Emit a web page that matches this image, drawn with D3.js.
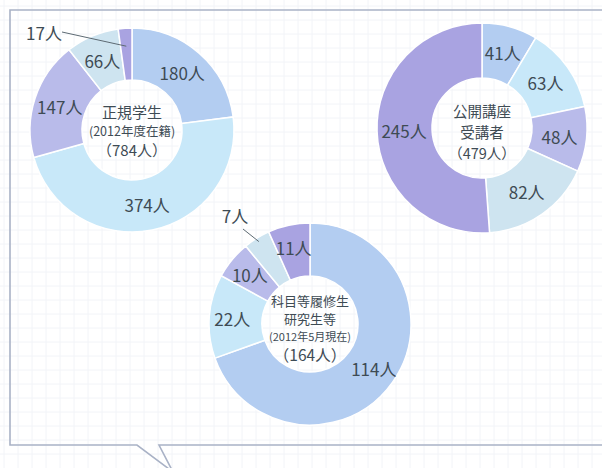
<!DOCTYPE html>
<html>
<head>
<meta charset="utf-8">
<script src="https://cdn.jsdelivr.net/npm/d3@7"></script>
<style>
  body { margin: 0; background: #fff; }
  text { font-family: "Noto Sans CJK JP", "Noto Sans", sans-serif; fill: #3e4b54; }
</style>
</head>
<body>
<div id="my_dataviz"></div>
<script>
// data for the 3 donuts
var colors = ["#b3cdf1", "#c8e8f9", "#b9bbea", "#cee4f0", "#a9a3e1"];

var seikiValues = [180, 374, 147, 66, 17];
var seikiTitle = ["正規学生", "(2012年度在籍)", "（784人）"];

var koukaiValues = [41, 63, 48, 82, 245];
var koukaiTitle = ["公開講座", "受講者", "（479人）"];

var kamokuValues = [114, 22, 10, 7, 11];
var kamokuTitle = ["科目等履修生", "研究生等", "(2012年5月現在)", "（164人）"];

var unit = "人";

// page size
var width = 602, height = 468;

var svg = d3.select("#my_dataviz")
  .append("svg")
  .attr("width", width)
  .attr("height", height);

// faint graph paper in the background
var grid = svg.append("g").attr("stroke", "#f2f4f8").attr("stroke-width", 1);
d3.range(4, width, 14).forEach(function(x) {
  grid.append("line").attr("x1", x).attr("x2", x).attr("y1", 0).attr("y2", height);
});
d3.range(6, height, 14).forEach(function(y) {
  grid.append("line").attr("x1", 0).attr("x2", width).attr("y1", y).attr("y2", y);
});

// speech bubble frame
svg.append("path")
  .attr("d", "M10,10 L612,10 L612,445 L159,445 L173,472 L137,445 L10,445 Z")
  .attr("fill", "none")
  .attr("stroke", "#a9b2c6")
  .attr("stroke-width", 1.6);

var pie = d3.pie().sort(null).value(function(d) { return d; });

// draw one donut
function donut(values, title, cx, cy, outer, inner, opts) {
  var g = svg.append("g").attr("transform", "translate(" + cx + "," + cy + ")");
  var arc = d3.arc().innerRadius(inner).outerRadius(outer);
  var labelArc = d3.arc().innerRadius(opts.labelR).outerRadius(opts.labelR);
  var arcs = pie(values);
  var ci = opts.callout ? opts.callout.index : -1;

  g.selectAll("path")
    .data(arcs)
    .enter()
    .append("path")
    .attr("d", arc)
    .attr("fill", function(d, i) { return colors[i]; })
    .attr("stroke", "#fff")
    .attr("stroke-width", 1.5);

  // labels inside the ring
  g.selectAll("text.val")
    .data(arcs.filter(function(d, i) { return ci !== i; }))
    .enter()
    .append("text")
    .attr("class", "val")
    .attr("transform", function(d) { return "translate(" + labelArc.centroid(d) + ")"; })
    .attr("text-anchor", "middle")
    .attr("dominant-baseline", "central")
    .attr("font-size", 17)
    .text(function(d) { return d.value + unit; });

  // small slice with a leader line
  if (opts.callout) {
    var c = arcs[ci];
    var mid = (c.startAngle + c.endAngle) / 2;
    var p0 = [Math.sin(mid) * opts.callout.r, -Math.cos(mid) * opts.callout.r];
    g.append("line")
      .attr("x1", p0[0]).attr("y1", p0[1])
      .attr("x2", opts.callout.end[0]).attr("y2", opts.callout.end[1])
      .attr("stroke", "#5d6a73")
      .attr("stroke-width", 1);
    g.append("text")
      .attr("x", opts.callout.label[0])
      .attr("y", opts.callout.label[1])
      .attr("text-anchor", "middle")
      .attr("dominant-baseline", "central")
      .attr("font-size", 17)
      .text(c.value + unit);
  }

  // title in the hole
  g.selectAll("text.title")
    .data(title)
    .enter()
    .append("text")
    .attr("class", "title")
    .attr("y", function(d, i) { return opts.titleY[i]; })
    .attr("text-anchor", "middle")
    .attr("dominant-baseline", "central")
    .attr("font-size", function(d, i) { return opts.titleSize[i]; })
    .text(function(d) { return d; });
}

donut(seikiValues, seikiTitle, 132, 130, 102, 50, {
  labelR: 76,
  callout: {index: 4, r: 84, end: [-70, -98], label: [-88, -98]},
  titleY: [-19, 0, 19],
  titleSize: [15, 12.5, 15]
});

donut(koukaiValues, koukaiTitle, 482, 128, 105, 50, {
  labelR: 78,
  callout: null,
  titleY: [-18, 3, 24],
  titleSize: [14.5, 14.5, 14.5]
});

donut(kamokuValues, kamokuTitle, 310, 324, 101, 48, {
  labelR: 78,
  callout: {index: 3, r: 97, end: [-67, -95], label: [-75, -109]},
  titleY: [-24, -6, 12, 30],
  titleSize: [13, 13, 11, 15.5]
});
</script>
</body>
</html>
